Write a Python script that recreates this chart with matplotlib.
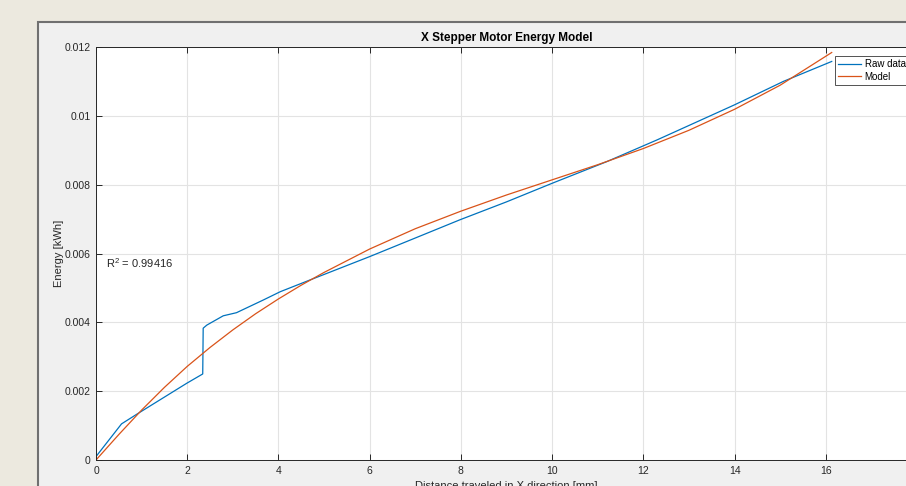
import numpy as np
import matplotlib
matplotlib.use("Agg")
import matplotlib.pyplot as plt
from matplotlib.patches import Rectangle

plt.rcParams['font.family'] = ['Liberation Sans', 'DejaVu Sans']
plt.rcParams['mathtext.fontset'] = 'custom'
plt.rcParams['mathtext.rm'] = 'Liberation Sans'
plt.rcParams['mathtext.it'] = 'Liberation Sans'

# Raw data (distance [mm], energy [kWh])
raw_x = [0, 0.56, 0.93, 1.99, 2.34, 2.35, 2.43, 2.79, 3.08, 3.67, 4.04, 4.69,
         6.0, 7.0, 7.98, 9.0, 10.0, 11.2, 12.3, 13.0, 14.0, 15.07, 16.13]
raw_y = [0.0001, 0.00105, 0.00136, 0.00223, 0.0025, 0.00383, 0.00392, 0.00419,
         0.00428, 0.00465, 0.00489, 0.00523, 0.00591, 0.00645, 0.00698, 0.0075,
         0.00804, 0.00867, 0.0093, 0.00972, 0.01032, 0.011, 0.01158]

# Model curve points
model_x = [0, 0.5, 1.0, 1.5, 2.0, 2.5, 3.0, 3.5, 4.0, 4.5, 5.0, 6.0, 7.0,
           8.0, 9.0, 10.0, 11.0, 12.0, 13.0, 14.0, 15.0, 16.13]
model_y = [0, 0.00074, 0.00145, 0.00211, 0.00272, 0.00327, 0.00378, 0.00425,
           0.00468, 0.00508, 0.00545, 0.00613, 0.00672, 0.00723, 0.00770,
           0.00814, 0.00858, 0.00905, 0.00958, 0.01019, 0.01089, 0.01184]

x_ticks = [0, 2, 4, 6, 8, 10, 12, 14, 16, 18]
x_tick_labels = ['0', '2', '4', '6', '8', '10', '12', '14', '16', '']
y_ticks = [0, 0.002, 0.004, 0.006, 0.008, 0.010, 0.012]
y_tick_labels = ['0', '0.002', '0.004', '0.006', '0.008', '0.01', '0.012']
r2_text = 'R$^{2}$ = 0.99416'

W, H = 906, 486
fig = plt.figure(figsize=(W / 100, H / 100), dpi=100)
fig.patch.set_facecolor('#ECE9DF')

# grey figure panel (MATLAB window)
panel = Rectangle((38 / W, -0.1), 1.2, (H - 22) / H + 0.1,
                  transform=fig.transFigure, facecolor='#F0F0F0',
                  edgecolor='#707070', linewidth=1.5, zorder=-10)
fig.add_artist(panel)

ax = fig.add_axes([96 / W, (H - 460) / H, (917 - 96) / W, (460 - 47) / H])
ax.set_zorder(5)
ax.set_facecolor('white')

ax.plot(raw_x, raw_y, color='#0072BD', lw=0.9, label='Raw data')
ax.plot(model_x, model_y, color='#D95319', lw=0.9, label='Model')

ax.set_xlim(0, 18)
ax.set_ylim(0, 0.012)
ax.set_xticks(x_ticks)
ax.set_xticklabels(x_tick_labels)
ax.set_yticks(y_ticks)
ax.set_yticklabels(y_tick_labels)
ax.grid(True, color='#E3E3E3', lw=0.8)
ax.set_axisbelow(True)
ax.tick_params(direction='in', length=4.5, width=0.7, colors='#262626',
               labelsize=7.5, top=True, right=True, pad=4)
for s in ax.spines.values():
    s.set_color('#262626')
    s.set_linewidth(0.7)

ax.set_title('X Stepper Motor Energy Model', fontsize=8.5, fontweight='bold',
             color='black', pad=4)
ax.set_ylabel('Energy [kWh]', fontsize=8, color='#262626', labelpad=0)
ax.set_xlabel('Distance traveled in X direction [mm]', fontsize=8,
              color='#262626', labelpad=4)

ax.text(0.22, 0.00573, r2_text, fontsize=8, color='#262626', va='center')

leg = ax.legend(loc='upper left', bbox_to_anchor=(835 / W, 1 - 56 / H),
                bbox_transform=fig.transFigure, fontsize=7, frameon=True,
                fancybox=False, handlelength=2.3, handletextpad=0.4,
                borderpad=0.35, labelspacing=0.25, borderaxespad=0)
leg.get_frame().set_edgecolor('#262626')
leg.get_frame().set_linewidth(0.7)

fig.savefig('out.png', dpi=100, facecolor=fig.get_facecolor())
